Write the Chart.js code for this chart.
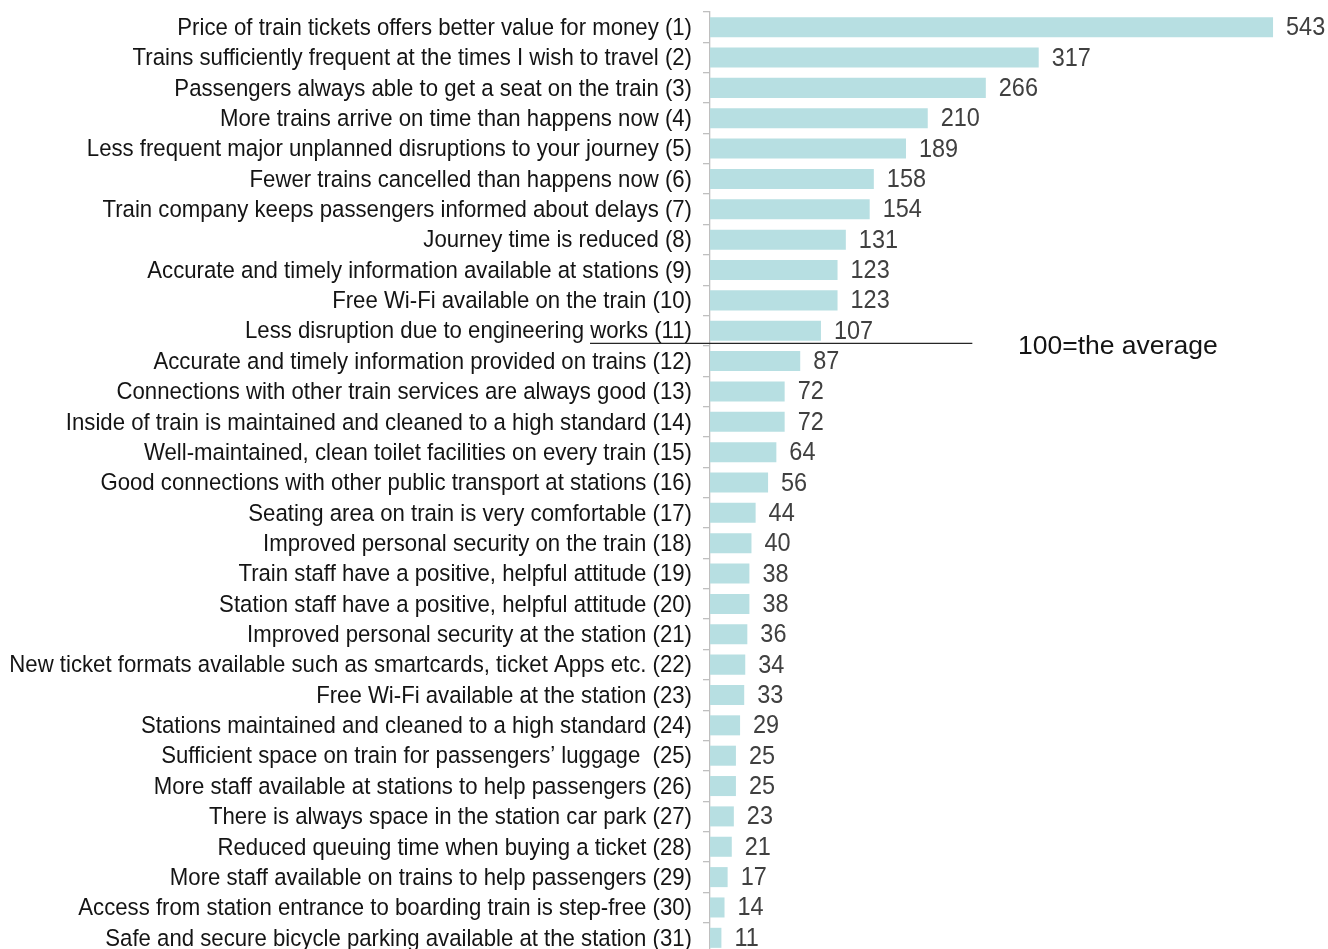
<!DOCTYPE html>
<html>
<head>
<meta charset="utf-8">
<script src="https://cdn.jsdelivr.net/npm/chart.js@4"></script>
<style>
  html, body { margin: 0; padding: 0; background: #fff; overflow: hidden; }
  #wrap { width: 1328px; height: 955px; }
</style>
</head>
<body>
<div id="wrap"><canvas id="grafico" width="1328" height="955"></canvas></div>
<script>
var labels = [
    "Price of train tickets offers better value for money (1)",
    "Trains sufficiently frequent at the times I wish to travel (2)",
    "Passengers always able to get a seat on the train (3)",
    "More trains arrive on time than happens now (4)",
    "Less frequent major unplanned disruptions to your journey (5)",
    "Fewer trains cancelled than happens now (6)",
    "Train company keeps passengers informed about delays (7)",
    "Journey time is reduced (8)",
    "Accurate and timely information available at stations (9)",
    "Free Wi-Fi available on the train (10)",
    "Less disruption due to engineering works (11)",
    "Accurate and timely information provided on trains (12)",
    "Connections with other train services are always good (13)",
    "Inside of train is maintained and cleaned to a high standard (14)",
    "Well-maintained, clean toilet facilities on every train (15)",
    "Good connections with other public transport at stations (16)",
    "Seating area on train is very comfortable (17)",
    "Improved personal security on the train (18)",
    "Train staff have a positive, helpful attitude (19)",
    "Station staff have a positive, helpful attitude (20)",
    "Improved personal security at the station (21)",
    "New ticket formats available such as smartcards, ticket Apps etc. (22)",
    "Free Wi-Fi available at the station (23)",
    "Stations maintained and cleaned to a high standard (24)",
    "Sufficient space on train for passengers\u2019 luggage  (25)",
    "More staff available at stations to help passengers (26)",
    "There is always space in the station car park (27)",
    "Reduced queuing time when buying a ticket (28)",
    "More staff available on trains to help passengers (29)",
    "Access from station entrance to boarding train is step-free (30)",
    "Safe and secure bicycle parking available at the station (31)"
];
var valores = [543, 317, 266, 210, 189, 158, 154, 131, 123, 123, 107, 87, 72, 72, 64, 56,
    44, 40, 38, 38, 36, 34, 33, 29, 25, 25, 23, 21, 17, 14, 11];
var media = 100;
var mediaTexto = "100=the average";
// items above the average sit before this index
var corte = valores.filter(function (v) { return v > media; }).length;

var fonte = "'Liberation Sans', Arial, sans-serif";

// draws text squeezed horizontally (narrow look)
function textoEstreito(ctx, txt, x, y, k) {
    ctx.save();
    ctx.translate(x, y);
    ctx.scale(k, 1);
    ctx.fillText(txt, 0, 0);
    ctx.restore();
}

// category names on the left of the axis, one per tick
var categorias = {
    id: 'categorias',
    afterDraw: function (chart) {
        var ctx = chart.ctx;
        var y = chart.scales.y;
        ctx.save();
        ctx.font = "24.5px " + fonte;
        ctx.fillStyle = "#141414";
        ctx.textAlign = "right";
        ctx.textBaseline = "middle";
        labels.forEach(function (lab, i) {
            textoEstreito(ctx, lab, chart.chartArea.left - 18, y.getPixelForValue(i) + 1, 0.905);
        });
        ctx.restore();
    }
};

// value labels at the end of each bar
var rotulos = {
    id: 'rotulos',
    afterDatasetsDraw: function (chart) {
        var ctx = chart.ctx;
        var meta = chart.getDatasetMeta(0);
        ctx.save();
        ctx.font = "25.5px " + fonte;
        ctx.fillStyle = "#404040";
        ctx.textAlign = "left";
        ctx.textBaseline = "middle";
        meta.data.forEach(function (bar, i) {
            textoEstreito(ctx, String(valores[i]), bar.x + 13, bar.y + 1, 0.92);
        });
        ctx.restore();
    }
};

// separator line between above / below average, with its note
var linhaMedia = {
    id: 'linhaMedia',
    afterDraw: function (chart) {
        var ctx = chart.ctx;
        var y = chart.scales.y;
        var x = chart.scales.x;
        var yy = (y.getPixelForValue(corte - 1) + y.getPixelForValue(corte)) / 2 - 2.5;
        ctx.save();
        ctx.strokeStyle = "#262626";
        ctx.lineWidth = 1.3;
        ctx.beginPath();
        ctx.moveTo(chart.chartArea.left - 120, yy);
        ctx.lineTo(x.getPixelForValue(253), yy);
        ctx.stroke();
        ctx.font = "26.5px " + fonte;
        ctx.fillStyle = "#141414";
        ctx.textAlign = "left";
        ctx.textBaseline = "middle";
        ctx.fillText(mediaTexto, x.getPixelForValue(297), yy + 3);
        ctx.restore();
    }
};

var ctx = document.getElementById("grafico").getContext('2d');
var grafico = new Chart(ctx, {
    type: 'bar',
    data: {
        labels: labels,
        datasets: [
            {
                data: valores,
                backgroundColor: "#b7dfe2",
                borderWidth: 0,
                barPercentage: 0.66,
                categoryPercentage: 1
            }
        ]
    },
    options: {
        indexAxis: 'y',
        responsive: false,
        animation: false,
        events: [],
        layout: { padding: { top: 12, bottom: 2, left: 0, right: 0 } },
        plugins: {
            legend: { display: false },
            tooltip: { enabled: false }
        },
        scales: {
            x: {
                display: false,
                min: 0,
                max: 596
            },
            y: {
                afterFit: function (scale) {
                    scale.width = 710;
                    scale.paddingTop = 0;
                    scale.paddingBottom = 0;
                },
                border: { display: true, color: "#bfbfbf", width: 1.3 },
                grid: {
                    display: true,
                    drawOnChartArea: false,
                    drawTicks: true,
                    tickLength: 7,
                    color: "#bfbfbf",
                    lineWidth: 1.3,
                    offset: true
                },
                ticks: { display: false, autoSkip: false }
            }
        }
    },
    plugins: [rotulos, categorias, linhaMedia]
});
</script>
</body>
</html>
